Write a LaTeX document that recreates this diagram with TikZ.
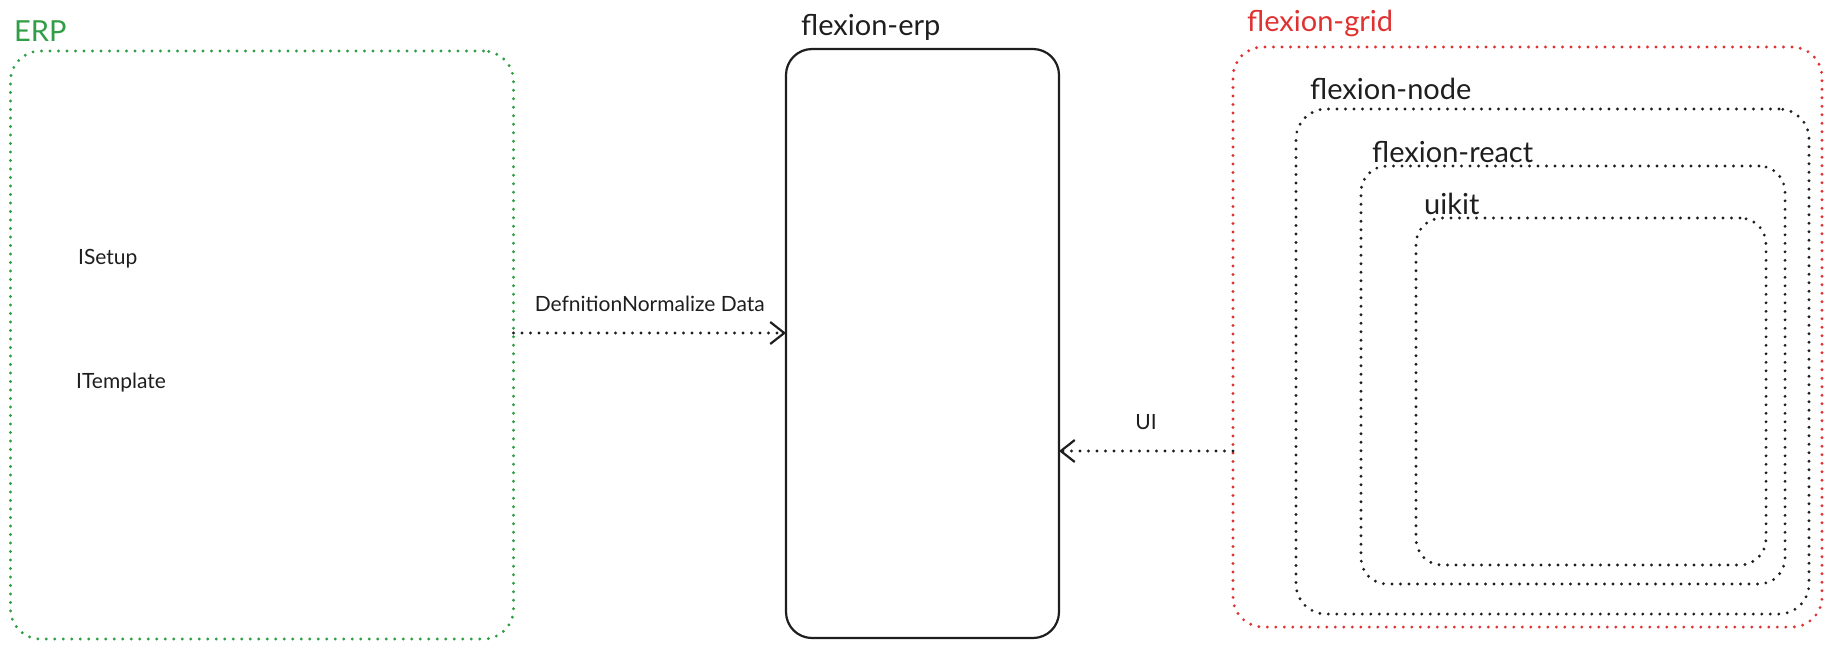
\documentclass[tikz,border=0pt]{standalone}
\usepackage{fontspec}
\setmainfont{Lato}
\usetikzlibrary{arrows.meta,calc}
\definecolor{exgreen}{HTML}{2F9E44}
\definecolor{exred}{HTML}{E03131}
\definecolor{exblack}{HTML}{1E1E1E}
\tikzset{
  dotbox/.style={draw, rectangle, rounded corners=30pt, line width=3.2pt, line cap=round,
    dash pattern=on 0pt off 8.5pt, inner sep=0pt, outer sep=0pt},
  solidbox/.style={draw=exblack, rectangle, rounded corners=26pt, line width=2.2pt,
    inner sep=0pt, outer sep=0pt},
  title/.style={anchor=west, font=\fontsize{29}{33}\selectfont, inner sep=0pt},
  small/.style={anchor=west, font=\fontsize{21}{25}\selectfont, text=exblack, inner sep=0pt},
  conn/.style={draw=exblack, line width=3.2pt, line cap=round, dash pattern=on 0pt off 8.5pt,
    -{Straight Barb[length=14pt,width=22pt,line width=2.2pt]}},
}
\begin{document}
\begin{tikzpicture}[x=1pt,y=-1pt]
\useasboundingbox (0,0) rectangle (1832,649);
% boxes
\node[dotbox, draw=exgreen, minimum width=503pt, minimum height=588pt] (erp) at (262,345) {};
\node[solidbox, minimum width=273pt, minimum height=589pt] (ferp) at (922.5,343.5) {};
\node[dotbox, draw=exred, minimum width=589pt, minimum height=580pt] (grid) at (1527.5,337) {};
\node[dotbox, draw=exblack, minimum width=513pt, minimum height=505pt] (fnode) at (1552.5,361.5) {};
\node[dotbox, draw=exblack, rounded corners=26pt, minimum width=424pt, minimum height=418pt] (react) at (1573,375) {};
\node[dotbox, draw=exblack, rounded corners=26pt, minimum width=350pt, minimum height=347pt] (uikit) at (1591,391.5) {};
% titles
\node[title, text=exgreen] (erpt) at (14,31) {ERP};
\node[title, text=exblack] (ferpt) at (801,27) {flexion-erp};
\node[title, text=exred] (gridt) at (1247,23) {flexion-grid};
\node[title, text=exblack] (fnodet) at (1310,89) {flexion-node};
\node[title, text=exblack] (reactt) at (1372,152) {flexion-react};
\node[title, text=exblack] (uikitt) at (1424,204) {uikit};
% inner texts
\node[small] (isetup) at (78,259) {ISetup};
\node[small] (itemplate) at (76,383) {ITemplate};
% connectors
\coordinate (a1) at ([yshift=12pt]erp.east);
\coordinate (a2) at ([yshift=-114pt]grid.west);
\draw[conn] (a1) -- node[midway, above=20pt, font=\fontsize{21}{25}\selectfont, text=exblack, inner sep=0pt] (lbl1) {DefnitionNormalize Data} (a1 -| ferp.west);
\draw[conn] (a2) -- node[midway, above=20pt, font=\fontsize{21}{25}\selectfont, text=exblack, inner sep=0pt] (lbl2) {UI} (a2 -| ferp.east);
\end{tikzpicture}
\end{document}
